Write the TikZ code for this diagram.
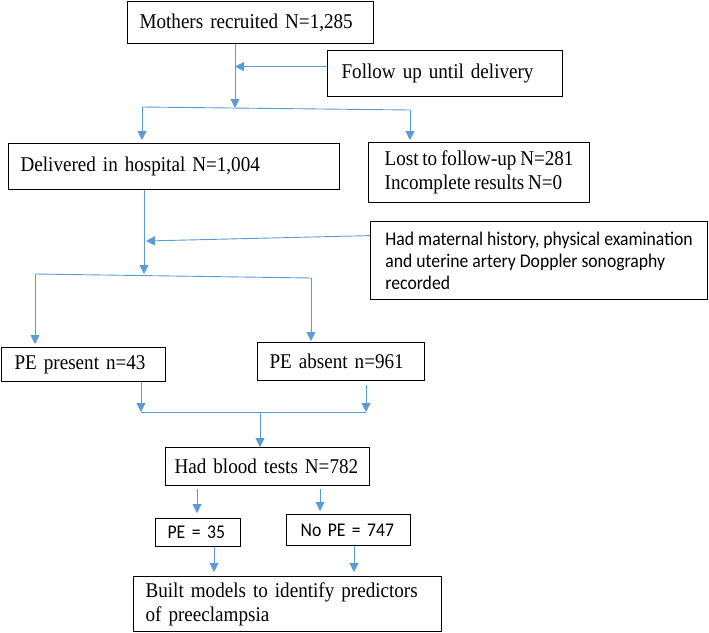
\documentclass[tikz,border=0pt]{standalone}
\usepackage{fontspec}
\setmainfont[FakeStretch=0.91, WordSpace=0.8]{Liberation Serif}
\newfontfamily\calibri[FakeStretch=0.91]{Carlito}
\usetikzlibrary{arrows.meta}
\definecolor{flowblue}{RGB}{91,155,213}
\tikzset{
	box/.style={draw=black, line width=1.2pt, inner xsep=12pt, inner ysep=0pt, align=left, anchor=north west, font=\fontsize{21}{24}\selectfont},
	sbox/.style={box, font=\calibri\fontsize{19.4}{22}\selectfont},
	flow/.style={draw=flowblue, line width=0.9pt},
	flowarr/.style={flow, -{Triangle[width=9pt,length=9pt]}},
}

\begin{document}
\begin{tikzpicture}[x=1pt, y=-1pt]
		%%%%% START %%%%%
		\useasboundingbox (0,0) rectangle (709,632);
		
		\node[box, text width=222pt, minimum height=42pt] (mothers) at (127,1) {Mothers recruited N=1,285};
		\node[box, inner xsep=14pt, text width=207pt, minimum height=46pt] (follow) at (327,50) {Follow up until delivery};
		
		\node[box, text width=307pt, minimum height=46pt] (delivered) at (8,143) {Delivered in hospital N=1,004};
		\node[box, inner xsep=0pt, minimum width=221pt, minimum height=60pt] (lost) at (368,142) {Lost to follow-up N=281\\Incomplete results N=0};
		
		\node[sbox, inner xsep=0pt, minimum width=337pt, minimum height=78pt] (maternal) at (370,221) {Had maternal history, physical examination\\and uterine artery Doppler sonography\\recorded};
		
		\node[box, inner xsep=13pt, text width=138pt, minimum height=34pt] (present) at (1,347) {PE present n=43};
		\node[box, text width=143pt, minimum height=38pt] (absent) at (257,342) {PE absent n=961};
		
		\node[box, inner xsep=9pt, text width=186pt, minimum height=38pt] (blood) at (165,447) {Had blood tests N=782};
		
		\node[sbox, text width=61pt, minimum height=28pt] (pe) at (155,518) {PE = 35};
		\node[sbox, inner xsep=14pt, text width=96pt, minimum height=31pt] (nope) at (286,514) {No PE = 747};
		
		\node[box, text width=284pt, minimum height=55pt] (built) at (133,576) {Built models to identify predictors\\of preeclampsia};
		
		% first split
		\coordinate (split1) at (235,108);
		\coordinate (bl1) at (142,107);
		\coordinate (br1) at (410,110);
		\draw[flowarr] (mothers.south -| split1) -- (split1);
		\draw[flowarr] ([yshift=7pt]follow.west) -- ([yshift=7pt]follow.west -| split1);
		\draw[flow] (bl1) -- (br1);
		\draw[flowarr, shorten >=3pt] (bl1) -- (bl1 |- delivered.north);
		\draw[flowarr, shorten >=2pt] (br1) -- (br1 |- lost.north);
		
		% second split
		\coordinate (split2) at (144,274);
		\coordinate (join2) at (146,241);
		\coordinate (bl2) at (35,274);
		\coordinate (br2) at (311,278);
		\draw[flowarr] (delivered.south -| split2) -- (split2);
		\draw[flowarr] ([yshift=25pt]maternal.west) -- (join2);
		\draw[flow] (bl2) -- (br2);
		\draw[flowarr, shorten >=3pt] (bl2) -- (bl2 |- present.north);
		\draw[flowarr, shorten >=1pt] (br2) -- (br2 |- absent.north);
		
		% merge
		\coordinate (bl3) at (141,412);
		\coordinate (br3) at (366,412);
		\coordinate (split3) at (260,412);
		\draw[flowarr] (present.south -| bl3) -- (bl3);
		\draw[flowarr, shorten <=4pt] (absent.south -| br3) -- (br3);
		\draw[flow] (bl3) -- (br3);
		\draw[flowarr] (split3) -- (split3 |- blood.north);
		
		% blood tests
		\coordinate (a1) at (197,0);
		\coordinate (a2) at (320,0);
		\coordinate (a3) at (214,0);
		\coordinate (a4) at (354,0);
		\draw[flowarr, shorten <=3pt, shorten >=5pt] (blood.south -| a1) -- (a1 |- pe.north);
		\draw[flowarr, shorten <=3pt, shorten >=3pt] (blood.south -| a2) -- (a2 |- nope.north);
		\draw[flowarr, shorten >=4pt] (pe.south -| a3) -- (a3 |- built.north);
		\draw[flowarr, shorten >=4pt] (nope.south -| a4) -- (a4 |- built.north);
		%%%%% END %%%%%
\end{tikzpicture}
\end{document}
